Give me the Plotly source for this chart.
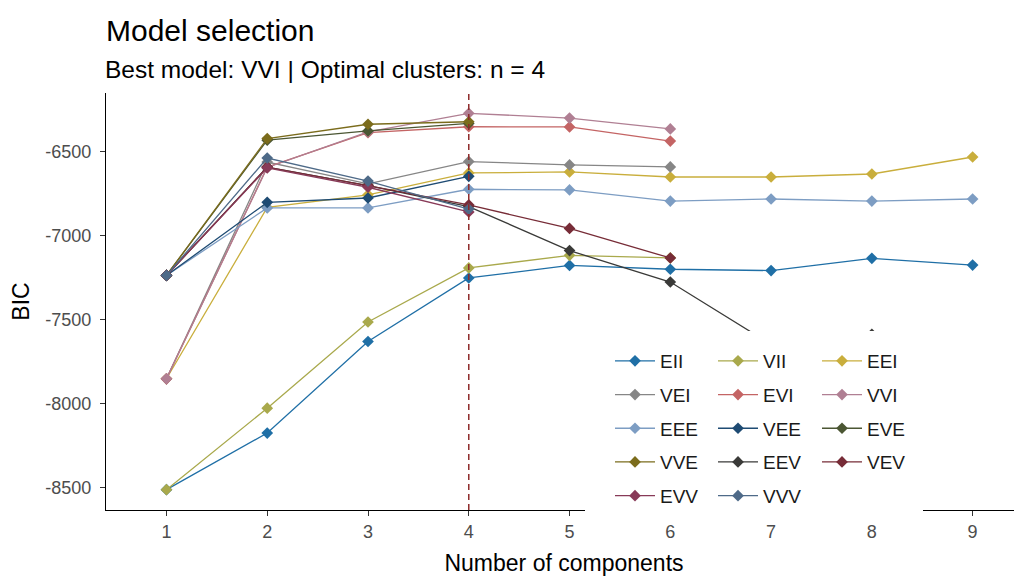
import plotly.graph_objects as go

# ---------------- data ----------------
components = [1, 2, 3, 4, 5, 6, 7, 8, 9]
model_names = ["EII", "VII", "EEI", "VEI", "EVI", "VVI", "EEE",
               "VEE", "EVE", "VVE", "EEV", "VEV", "EVV", "VVV"]

EII = [-8510, -8173, -7628, -7250, -7175, -7198, -7206, -7133, -7173]
VII = [-8510, -8025, -7512, -7190, -7115, -7130, None, None, None]
EEI = [-7850, -6830, -6755, -6625, -6619, -6649, -6649, -6631, -6530]
VEI = [-7850, -6560, -6690, -6557, -6577, -6589, None, None, None]
EVI = [-7850, -6590, -6385, -6350, -6351, -6435, None, None, None]
VVI = [-7850, -6592, -6381, -6270, -6298, -6363, None, None, None]
EEE = [-7235, -6833, -6833, -6722, -6726, -6792, -6780, -6792, -6780]
VEE = [-7235, -6800, -6774, -6645, None, None, None, None, None]
EVE = [-7235, -6430, -6375, -6330, None, None, None, None, None]
VVE = [-7235, -6420, -6335, -6320, None, None, None, None, None]
EEV = [-7235, -6590, -6700, -6825, -7087, -7274, -7645, -7585, None]
VEV = [-7235, -6590, -6700, -6815, -6955, -7131, None, None, None]
EVV = [-7235, -6595, -6710, -6857, None, None, None, None, None]
VVV = [-7235, -6536, -6673, -6840, None, None, None, None, None]

series = {"EII": EII, "VII": VII, "EEI": EEI, "VEI": VEI, "EVI": EVI,
          "VVI": VVI, "EEE": EEE, "VEE": VEE, "EVE": EVE, "VVE": VVE,
          "EEV": EEV, "VEV": VEV, "EVV": EVV, "VVV": VVV}

optimal_n = 4
title_text = "Model selection"
subtitle_text = "Best model: VVI | Optimal clusters: n = 4"
y_ticks = [-8500, -8000, -7500, -7000, -6500]
y_tick_labels = ["-8500", "-8000", "-7500", "-7000", "-6500"]
x_ticks = components

# ---------------- styles ----------------
colors = {"EII": "#1F6FA6", "VII": "#A9A94C", "EEI": "#C9AE3C",
          "VEI": "#868686", "EVI": "#C46464", "VVI": "#B07F93",
          "EEE": "#7D9DC3", "VEE": "#1E4B73", "EVE": "#4B5633",
          "VVE": "#7B6C1C", "EEV": "#3A3A38", "VEV": "#772C37",
          "EVV": "#883A58", "VVV": "#4E6A88"}

FONT = "Liberation Sans, Arial, sans-serif"
legend_ids = ["legend", "legend2", "legend3"]

fig = go.Figure()
for i, name in enumerate(model_names):
    fig.add_trace(go.Scatter(
        x=components, y=series[name], name=name, mode="lines+markers",
        line=dict(color=colors[name], width=1.3),
        marker=dict(symbol="diamond", size=9, color=colors[name]),
        legend=legend_ids[i % 3], legendgroup=name,
        connectgaps=False,
    ))

# the page body adds an 8px margin, so the figure is 8px smaller than the window
OFF = 8
W, H = 1022 - OFF, 577 - OFF
L, R, T, B = 106 - OFF, 0, 93 - OFF, 67
pw, ph = W - L - R, H - T - B

def px_x(px):  # reference window pixel -> paper x
    return (px - OFF - L) / pw

def px_y(py):  # reference window pixel -> paper y
    return (H - B - (py - OFF)) / ph

legend_common = dict(
    xanchor="left", yanchor="top", bgcolor="rgba(0,0,0,0)",
    font=dict(family=FONT, size=19, color="#1A1A1A"),
    tracegroupgap=6, itemwidth=40, orientation="v",
)

fig.update_layout(
    width=W, height=H,
    margin=dict(l=L, r=R, t=T, b=B, autoexpand=False),
    paper_bgcolor="white", plot_bgcolor="white",
    title=dict(
        text=title_text,
        font=dict(family=FONT, size=30, color="black"),
        x=L / W, xref="container", xanchor="left",
        y=1 - (30 - OFF) / H, yref="container", yanchor="middle",
    ),
    xaxis=dict(
        range=[0.4, 9.49], tickmode="array", tickvals=x_ticks,
        showline=True, linecolor="black", linewidth=1.3,
        ticks="outside", ticklen=5, tickcolor="#333333", tickwidth=1.2,
        tickfont=dict(family=FONT, size=18, color="#4D4D4D"),
        showgrid=False, zeroline=False, automargin=False,
        title=dict(text="Number of components", standoff=14,
                   font=dict(family=FONT, size=23, color="black")),
    ),
    yaxis=dict(
        range=[-8631, -6149], tickmode="array", tickvals=y_ticks,
        ticktext=y_tick_labels, ticklabelstandoff=5,
        showline=True, linecolor="black", linewidth=1.3,
        ticks="outside", ticklen=5, tickcolor="#333333", tickwidth=1.2,
        tickfont=dict(family=FONT, size=18, color="#4D4D4D"),
        showgrid=False, zeroline=False, automargin=False,
        title=dict(text="BIC", standoff=10,
                   font=dict(family=FONT, size=23, color="black")),
    ),
    legend=dict(x=px_x(610), y=px_y(342), **legend_common),
    legend2=dict(x=px_x(713), y=px_y(342), **legend_common),
    legend3=dict(x=px_x(817), y=px_y(342), **legend_common),
    showlegend=True,
    annotations=[dict(
        text=subtitle_text, xref="paper", yref="paper",
        x=0, y=px_y(70), xanchor="left", yanchor="middle", xshift=-3,
        showarrow=False, font=dict(family=FONT, size=24.5, color="black"),
    )],
)

# optimal number of clusters: dashed vertical line
fig.add_shape(type="line", xref="x", yref="paper", x0=optimal_n, x1=optimal_n,
              y0=0, y1=1, line=dict(color="#8E2B2B", width=1.5, dash="6px,4px"),
              layer="above")
# white legend background (covers lines and axis, as in the reference)
fig.add_shape(type="rect", xref="paper", yref="paper",
              x0=px_x(585), x1=px_x(923), y0=px_y(516), y1=px_y(331),
              fillcolor="white", line=dict(width=0), layer="above")

fig.write_html("out.html")
